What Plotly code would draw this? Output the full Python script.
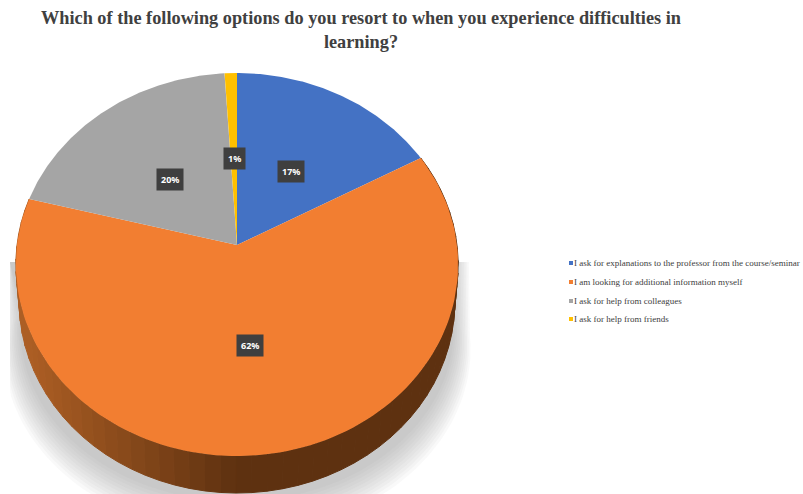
import numpy as np
import plotly.graph_objects as go

# Survey answers and their shares, drawn clockwise from twelve o'clock
categories = [
    "I ask for explanations to the professor from the course/seminar",
    "I am looking for additional information myself",
    "I ask for help from colleagues",
    "I ask for help from friends",
]
shares = [17, 62, 20, 1]
share_labels = ["17%", "62%", "20%", "1%"]
colors = ["#4472C4", "#F27E31", "#A5A5A5", "#FFC000"]
title_text = ("Which of the following options do you resort to when you experience "
              "difficulties in<br>learning?")

# Canvas and pie tilt
W, H = 803, 494
CX, CY = 237, 245          # pixel position of the pie's centre
SX, SY = 220.0, 189.5      # pixels per unit of pie radius
TILT = 0.102               # perspective strength
DEPTH = 37 / SY            # wall height in pie units
WALL_TAPER = 0.985         # the wall's lower edge is slightly narrower than the top face


def rim(turn):
    """Project a position on the pie's edge (fraction of a full turn) to the tilted plane."""
    a = 2 * np.pi * np.asarray(turn, dtype=float)
    d = 1 + TILT * np.cos(a)
    return np.sin(a) / d, np.cos(a) / d


fig = go.Figure()

# Soft drop shadow: stacked translucent layers, cut off by a straight edge on the left
left_limit = (10 - CX) / SX
shadow_top = (CY - 262) / SY
for s in np.linspace(1, 0, 11):
    x, y = rim(np.linspace(0.25, 0.75, 90))
    x = np.maximum(x * (0.98 + 0.076 * s), left_limit)
    y = y * (0.90 + 0.07 * s) - (0.35 + 0.10 * s)
    xs = np.r_[x[0] * 0.998, x, left_limit]
    ys = np.r_[shadow_top, y, shadow_top]
    fig.add_trace(go.Scatter(x=xs, y=ys, mode="lines", fill="toself", line=dict(width=0),
                             fillcolor="rgba(150,153,158,0.06)",
                             hoverinfo="skip", showlegend=False))

# Side wall of the largest slice, shaded from lit left to dark right
start = shares[0] / sum(shares)
end = (shares[0] + shares[1]) / sum(shares)
edges = np.linspace(start, end, 61)
for t0, t1 in zip(edges[:-1], edges[1:]):
    tt = np.linspace(t0, t1, 4)
    x, y = rim(tt)
    xs = np.r_[x, x[::-1] * WALL_TAPER, x[0]]
    ys = np.r_[y, y[::-1] - DEPTH, y[0]]
    f = np.clip((x.mean() + 0.95) / 0.95, 0, 1)
    col = np.array([172, 94, 36]) * (1 - f) + np.array([94, 49, 16]) * f
    rgb = f"rgb({col[0]:.0f},{col[1]:.0f},{col[2]:.0f})"
    fig.add_trace(go.Scatter(x=xs, y=ys, mode="lines", fill="toself",
                             line=dict(width=1, color=rgb), fillcolor=rgb,
                             hoverinfo="skip", showlegend=False))

# Top faces of the slices
cum = np.r_[0, np.cumsum(shares)] / sum(shares)
for i, name in enumerate(categories):
    x, y = rim(np.linspace(cum[i], cum[i + 1], 120))
    fig.add_trace(go.Scatter(x=np.r_[0, x, 0], y=np.r_[0, y, 0], mode="lines", fill="toself",
                             name=name, line=dict(width=0), fillcolor=colors[i],
                             hoverinfo="name", showlegend=False))

# Percentage tags sit along each slice's bisector, nudged to clear the slice edges
tag_radius = [0.55, 0.52, 0.52, 0.47]
tag_nudge = [(-3, -9), (-3, 8), (1, -5), (0, 6)]
for i, lab in enumerate(share_labels):
    x, y = rim((cum[i] + cum[i + 1]) / 2)
    fig.add_annotation(x=x * tag_radius[i], y=y * tag_radius[i], text=f"<b>{lab}</b>",
                       xshift=tag_nudge[i][0], yshift=tag_nudge[i][1],
                       showarrow=False, bgcolor="#3F3F3F", borderpad=4,
                       font=dict(family="Noto Sans", size=9, color="white"))

# Compact legend at the right
legend_x, legend_rows = 574, [263, 282, 301, 319]
for name, col, ly in zip(categories, colors, legend_rows):
    fig.add_annotation(xref="paper", yref="paper", x=legend_x / W, y=1 - ly / H,
                       xanchor="left", yanchor="middle", text=name, showarrow=False,
                       borderpad=0, xshift=-1,
                       font=dict(family="Liberation Serif", size=9, color="#404040"))
    fig.add_shape(type="rect", xref="paper", yref="paper", line=dict(width=0), fillcolor=col,
                  x0=569 / W, x1=573 / W, y0=1 - (ly + 2) / H, y1=1 - (ly - 2) / H)

fig.update_layout(
    width=W, height=H, autosize=False,
    margin=dict(l=0, r=0, t=0, b=0),
    paper_bgcolor="white", plot_bgcolor="white",
    showlegend=False,
    title=dict(text=f"<b>{title_text}</b>", x=361 / W, xanchor="center",
               y=1 - 24 / H, yanchor="top",
               font=dict(family="Liberation Serif", size=18.3, color="#404040")),
    xaxis=dict(visible=False, range=[(0 - CX) / SX, (W - CX) / SX], fixedrange=True),
    yaxis=dict(visible=False, range=[(CY - H) / SY, CY / SY], fixedrange=True),
)

fig.write_html("out.html")
